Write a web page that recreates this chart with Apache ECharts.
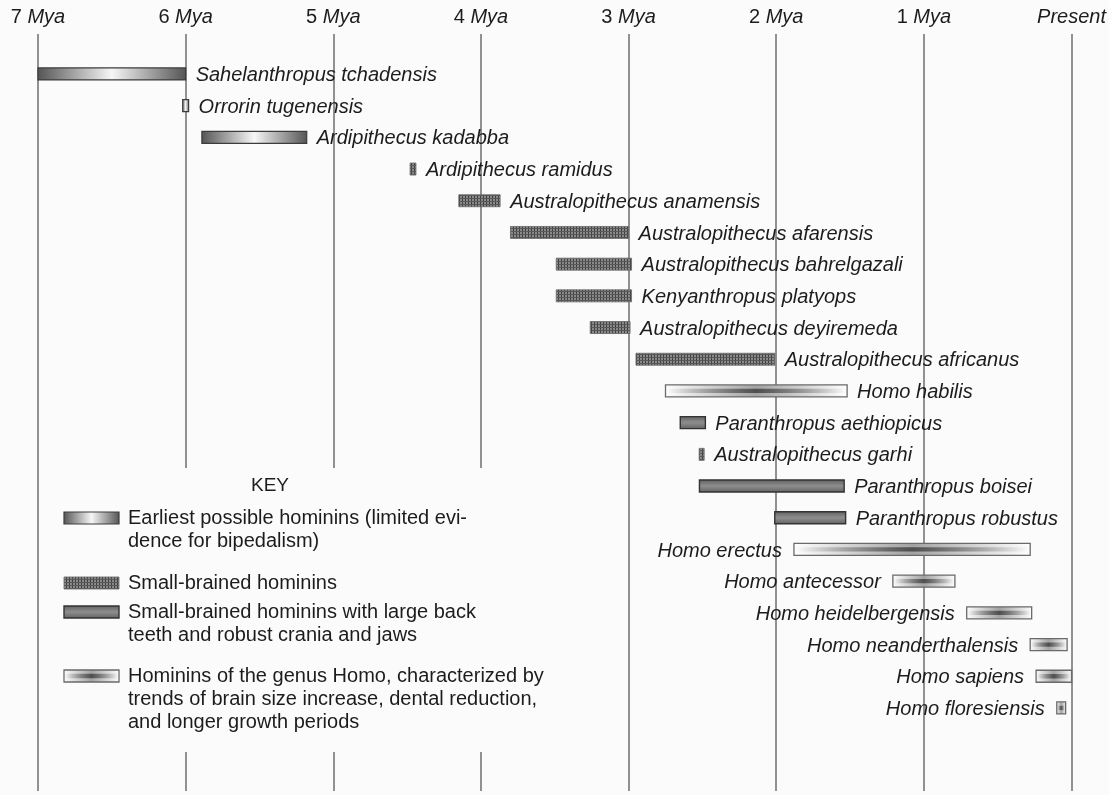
<!DOCTYPE html>
<html><head><meta charset="utf-8">
<script src="https://cdn.jsdelivr.net/npm/echarts@6/dist/echarts.min.js"></script>
<style>html,body{margin:0;padding:0;background:#fbfbfb}#c{width:1109px;height:795px}</style>
</head><body><div id="c"></div>
<script>
// ---- data ----
const species = [
  'Sahelanthropus tchadensis', 'Orrorin tugenensis', 'Ardipithecus kadabba', 'Ardipithecus ramidus',
  'Australopithecus anamensis', 'Australopithecus afarensis', 'Australopithecus bahrelgazali',
  'Kenyanthropus platyops', 'Australopithecus deyiremeda', 'Australopithecus africanus',
  'Homo habilis', 'Paranthropus aethiopicus', 'Australopithecus garhi', 'Paranthropus boisei',
  'Paranthropus robustus', 'Homo erectus', 'Homo antecessor', 'Homo heidelbergensis',
  'Homo neanderthalensis', 'Homo sapiens', 'Homo floresiensis'
];
const startMya = [7.0, 6.02, 5.89, 4.48, 4.15, 3.80, 3.49, 3.49, 3.26, 2.95, 2.75, 2.65, 2.52, 2.52, 2.01, 1.88, 1.21, 0.71, 0.28, 0.24, 0.10];
const endMya   = [6.0, 5.98, 5.18, 4.44, 3.87, 3.00, 2.98, 2.98, 2.99, 2.01, 1.52, 2.48, 2.49, 1.54, 1.53, 0.28, 0.79, 0.27, 0.03, 0.00, 0.04];
// 0 = earliest possible hominins, 1 = small-brained, 2 = small-brained robust, 3 = genus Homo
const groupOf  = [0, 0, 0, 1, 1, 1, 1, 1, 1, 1, 3, 2, 1, 2, 2, 3, 3, 3, 3, 3, 3];
const tickValues = [7, 6, 5, 4, 3, 2, 1, 0];
const tickUnit = 'Mya';
const presentLabel = 'Present';
const keyTitle = 'KEY';
const keyLabels = [
  'Earliest possible hominins (limited evi-\ndence for bipedalism)',
  'Small-brained hominins',
  'Small-brained hominins with large back\nteeth and robust crania and jaws',
  'Hominins of the genus Homo, characterized by\ntrends of brain size increase, dental reduction,\nand longer growth periods'
];

// ---- styles ----
const FONT = '"Liberation Sans", Arial, sans-serif';
const FS = 20;
const BG = '#fbfbfb';
const LG = echarts.graphic.LinearGradient;

const pc = document.createElement('canvas');
pc.width = 3; pc.height = 3;
(function(){
  const c = pc.getContext('2d');
  c.fillStyle = '#8a8a8a'; c.fillRect(0,0,3,3);
  c.fillStyle = '#404040'; c.fillRect(0,0,1,3);
  c.fillStyle = '#585858'; c.fillRect(0,0,3,1);
})();

function barParts(g, x, y, w, h, z) {
  const zz = z || 0;
  if (g === 0) {
    return [{type:'rect', z:zz, shape:{x, y, width:w, height:h}, style:{
      fill: new LG(0,0,1,0,[{offset:0,color:'#545454'},{offset:0.5,color:'#f6f6f6'},{offset:1,color:'#545454'}]),
      stroke:'#3c3c3c', lineWidth:1.2}}];
  }
  if (g === 1) {
    return [{type:'rect', z:zz, shape:{x, y, width:w, height:h}, style:{
      fill:{image: pc, repeat:'repeat'}, stroke:'#666', lineWidth:0.8}}];
  }
  if (g === 2) {
    return [{type:'rect', z:zz, shape:{x, y, width:w, height:h}, style:{
      fill: new LG(0,0,0,1,[{offset:0,color:'#5e5e5e'},{offset:0.45,color:'#8a8a8a'},{offset:0.55,color:'#8a8a8a'},{offset:1,color:'#5e5e5e'}]),
      stroke:'#333', lineWidth:1.4}}];
  }
  return [
    {type:'rect', z:zz, shape:{x, y, width:w, height:h}, style:{
      fill: new LG(0,0,1,0,[{offset:0,color:'#ffffff'},{offset:0.5,color:'#a2a2a2'},{offset:1,color:'#ffffff'}]),
      stroke:'#6a6a6a', lineWidth:1.3}},
    {type:'rect', z:zz + 1, shape:{x: x+1, y: y+h*0.32, width: Math.max(w-2,1), height: h*0.36}, style:{
      fill: new LG(0,0,1,0,[{offset:0,color:'rgba(90,90,90,0)'},{offset:0.5,color:'rgba(70,70,70,0.9)'},{offset:1,color:'rgba(90,90,90,0)'}])}}
  ];
}

const data = species.map((s, i) => [i, startMya[i], endMya[i], groupOf[i]]);

function renderItem(params, api) {
  const i = params.dataIndex;
  const row = api.value(0);
  const p0 = api.coord([api.value(1), row]);
  const p1 = api.coord([api.value(2), row]);
  const h = 12;
  let x = Math.min(p0[0], p1[0]);
  let w = Math.abs(p1[0] - p0[0]);
  if (w < 5) { x -= (5 - w) / 2; w = 5; }
  const y = p0[1] - h / 2;
  const children = barParts(api.value(3), x, y, w, h);
  const left = i >= 15;
  children.push({type:'text', style:{
    text: species[i], x: left ? x - 12 : x + w + 10, y: p0[1] + 1.5,
    align: left ? 'right' : 'left', verticalAlign: 'middle',
    font: 'italic ' + FS + 'px ' + FONT, fill: '#1c1c1c'}});
  return {type:'group', children};
}

// ---- key (legend) ----
const keyTop = [518, 583, 612, 676];
const keyChildren = [{type:'rect', z:100, shape:{x:50, y:468, width:515, height:284}, style:{fill:BG}},
  {type:'text', z:110, style:{text:keyTitle, x:270, y:486, align:'center', verticalAlign:'middle', font:'19px ' + FONT, fill:'#1c1c1c'}}];
keyLabels.forEach((t, k) => {
  barParts(k, 64, keyTop[k] - 6, 55, 12, 110).forEach(c => keyChildren.push(c));
  keyChildren.push({type:'text', z:110, style:{text:t, x:128, y:keyTop[k] - 11.5, align:'left', verticalAlign:'top',
    font: FS + 'px ' + FONT, fill:'#1c1c1c', lineHeight:23}});
});

const chart = echarts.init(document.getElementById('c'), null, {renderer:'canvas'});
chart.setOption({
  backgroundColor: BG,
  animation: false,
  grid: {left:38, right:36, top:34, bottom:4},
  xAxis: {
    type:'value', min:0, max:7, interval:1, inverse:true, position:'top',
    axisLine:{show:false}, axisTick:{show:false},
    splitLine:{show:true, lineStyle:{color:'#6e6e6e', width:1.5}},
    axisLabel:{
      margin:7, fontFamily:FONT, fontSize:FS, color:'#1c1c1c',
      formatter: v => tickValues.indexOf(v) < 0 ? '' : (v === 0 ? '{i|' + presentLabel + '}' : '{n|' + v + '} {i|' + tickUnit + '}'),
      rich:{ n:{fontFamily:FONT, fontSize:FS, color:'#1c1c1c'}, i:{fontFamily:FONT, fontSize:FS, fontStyle:'italic', color:'#1c1c1c'} }
    }
  },
  yAxis: {type:'value', min:-1.26, max:22.62, inverse:true, show:false, splitLine:{show:false}},
  graphic: keyChildren,
  series: [{
    type:'custom', renderItem, data, clip:false, z:60,
    encode:{x:[1,2], y:0}
  }]
});
</script></body></html>
